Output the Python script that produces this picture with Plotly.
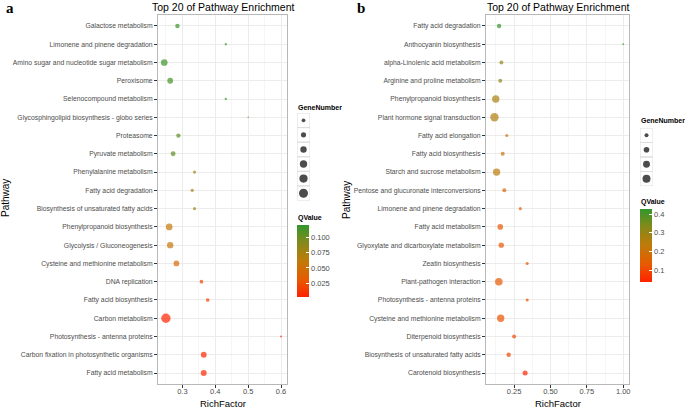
import plotly.graph_objects as go

# panel a
pathway_a = ['Galactose metabolism', 'Limonene and pinene degradation',
             'Amino sugar and nucleotide sugar metabolism', 'Peroxisome',
             'Selenocompound metabolism', 'Glycosphingolipid biosynthesis - globo series',
             'Proteasome', 'Pyruvate metabolism', 'Phenylalanine metabolism',
             'Fatty acid degradation', 'Biosynthesis of unsaturated fatty acids',
             'Phenylpropanoid biosynthesis', 'Glycolysis / Gluconeogenesis',
             'Cysteine and methionine metabolism', 'DNA replication',
             'Fatty acid biosynthesis', 'Carbon metabolism',
             'Photosynthesis - antenna proteins',
             'Carbon fixation in photosynthetic organisms', 'Fatty acid metabolism']
rich_a = [0.285, 0.432, 0.245, 0.263, 0.432, 0.50, 0.288, 0.272, 0.337, 0.330,
          0.337, 0.260, 0.263, 0.282, 0.358, 0.377, 0.250, 0.600, 0.365, 0.365]
gene_a = [15, 4, 33, 25, 4, 2, 14, 18, 7, 8, 7, 33, 30, 24, 10, 10, 65, 3, 25, 26]
qval_a = [0.118, 0.118, 0.118, 0.115, 0.118, 0.11, 0.105, 0.105, 0.080, 0.078,
          0.080, 0.058, 0.058, 0.045, 0.020, 0.020, 0.003, 0.010, 0.005, 0.005]
gene_keys_a = [10, 20, 30, 40, 50, 60]
q_ticks_a = [0.025, 0.050, 0.075, 0.100]
q_labels_a = ['0.025', '0.050', '0.075', '0.100']
x_ticks_a = [0.3, 0.4, 0.5, 0.6]

# panel b
pathway_b = ['Fatty acid degradation', 'Anthocyanin biosynthesis',
             'alpha-Linolenic acid metabolism', 'Arginine and proline metabolism',
             'Phenylpropanoid biosynthesis', 'Plant hormone signal transduction',
             'Fatty acid elongation', 'Fatty acid biosynthesis',
             'Starch and sucrose metabolism', 'Pentose and glucuronate interconversions',
             'Limonene and pinene degradation', 'Fatty acid metabolism',
             'Glyoxylate and dicarboxylate metabolism', 'Zeatin biosynthesis',
             'Plant-pathogen interaction', 'Photosynthesis - antenna proteins',
             'Cysteine and methionine metabolism', 'Diterpenoid biosynthesis',
             'Biosynthesis of unsaturated fatty acids', 'Carotenoid biosynthesis']
rich_b = [0.147, 1.0, 0.163, 0.155, 0.124, 0.115, 0.200, 0.172, 0.130, 0.183,
          0.293, 0.155, 0.162, 0.340, 0.145, 0.340, 0.158, 0.250, 0.213, 0.326]
gene_b = [6, 1, 5, 5, 17, 22, 3, 5, 17, 5, 3, 10, 9, 3, 18, 3, 17, 5, 6, 8]
qval_b = [0.427, 0.427, 0.31, 0.31, 0.27, 0.26, 0.20, 0.20, 0.24, 0.16,
          0.14, 0.13, 0.13, 0.12, 0.13, 0.12, 0.12, 0.10, 0.10, 0.04]
gene_keys_b = [5, 10, 15, 20]
q_ticks_b = [0.1, 0.2, 0.3, 0.4]
q_labels_b = ['0.1', '0.2', '0.3', '0.4']
x_ticks_b = [0.25, 0.50, 0.75, 1.00]

W, H = 685, 409
FONT = 'Liberation Sans, Arial, sans-serif'
GREY = '#4d4d4d'
scale = [[0.0, '#ff2200'], [0.25, '#e65c00'], [0.5, '#c07a0a'],
         [0.75, '#86891a'], [1.0, '#32972c']]

def px(x):
    return x / W

def py(y):
    return 1 - y / H

# plotly area mode: diameter = sqrt(2*v/sizeref)
sref_a = 2 * 60 / 81.0
sref_b = 2 * 20 / 64.0

fig = go.Figure()

fig.add_trace(go.Scatter(x=rich_a, y=pathway_a, mode='markers', xaxis='x', yaxis='y',
                         marker=dict(size=gene_a, sizemode='area', sizeref=sref_a, sizemin=0.7,
                                     color=qval_a, coloraxis='coloraxis', line=dict(width=0)),
                         showlegend=False))
fig.add_trace(go.Scatter(x=rich_b, y=pathway_b, mode='markers', xaxis='x2', yaxis='y2',
                         marker=dict(size=gene_b, sizemode='area', sizeref=sref_b, sizemin=0.7,
                                     color=qval_b, coloraxis='coloraxis2', line=dict(width=0)),
                         showlegend=False))

# size legends drawn as small scatter panels
for keys, sref, xa, ya in [(gene_keys_a, sref_a, 'x3', 'y3'), (gene_keys_b, sref_b, 'x4', 'y4')]:
    idx = list(range(len(keys)))
    fig.add_trace(go.Scatter(x=[0] * len(keys), y=idx, mode='markers', xaxis=xa, yaxis=ya,
                             marker=dict(size=keys, sizemode='area', sizeref=sref, color='black',
                                         line=dict(width=0)),
                             showlegend=False, cliponaxis=False, hoverinfo='skip'))
    fig.add_trace(go.Scatter(x=[0.62] * len(keys), y=idx, mode='text', xaxis=xa, yaxis=ya,
                             text=[str(k) for k in keys], textposition='middle right',
                             textfont=dict(size=7.5, color=GREY, family=FONT),
                             showlegend=False, cliponaxis=False, hoverinfo='skip'))

ydom = [py(384), py(15)]
common_x = dict(showline=True, mirror=True, linecolor='#b8b8b8', linewidth=1,
                showgrid=True, gridcolor='#ececec', gridwidth=1,
                ticks='outside', ticklen=3, tickcolor='#333333', tickwidth=1,
                ticklabelstandoff=-3,
                tickfont=dict(size=7.5, color=GREY, family=FONT), zeroline=False)
common_y = dict(showline=True, mirror=True, linecolor='#b8b8b8', linewidth=1,
                showgrid=True, gridcolor='#ececec', gridwidth=1,
                ticks='outside', ticklen=3, tickcolor='#333333', tickwidth=1,
                tickfont=dict(size=6.8, color=GREY, family=FONT), zeroline=False,
                type='category', range=[19.6, -0.6])

cbar = dict(thickness=12, thicknessmode='pixels', lenmode='pixels', xanchor='left',
            yanchor='top', xpad=0, ypad=0, outlinewidth=0, ticks='inside', ticklen=3,
            tickcolor='white', tickfont=dict(size=7.5, color=GREY, family=FONT))

fig.update_layout(
    width=W, height=H, margin=dict(l=0, r=0, t=0, b=0),
    paper_bgcolor='white', plot_bgcolor='white',
    font=dict(family=FONT, color='black'),
    xaxis=dict(domain=[px(158), px(287)], range=[0.226, 0.618], tickvals=x_ticks_a,
               minor=dict(dtick=0.05, tick0=0.25, showgrid=True, gridcolor='#f6f6f6'), **common_x),
    yaxis=dict(domain=ydom, anchor='x', categoryarray=pathway_a, categoryorder='array', **common_y),
    xaxis2=dict(domain=[px(486), px(629)], range=[0.057, 1.04], tickvals=x_ticks_b,
                ticktext=['0.25', '0.50', '0.75', '1.00'],
                minor=dict(dtick=0.125, tick0=0.125, showgrid=True, gridcolor='#f6f6f6'), **common_x),
    yaxis2=dict(domain=ydom, anchor='x2', categoryarray=pathway_b, categoryorder='array', **common_y),
    xaxis3=dict(domain=[px(297), px(310)], range=[-0.5, 0.5], visible=False, fixedrange=True),
    yaxis3=dict(domain=[py(200.5), py(113)], range=[5.5, -0.5], visible=False, anchor='x3'),
    xaxis4=dict(domain=[px(640), px(653)], range=[-0.5, 0.5], visible=False, fixedrange=True),
    yaxis4=dict(domain=[py(186), py(128)], range=[3.5, -0.5], visible=False, anchor='x4'),
    coloraxis=dict(colorscale=scale, cmin=0.002, cmax=0.121,
                   colorbar=dict(x=px(297), y=py(225), len=72, tickvals=q_ticks_a,
                                 ticktext=q_labels_a, **cbar)),
    coloraxis2=dict(colorscale=scale, cmin=0.037, cmax=0.427,
                    colorbar=dict(x=px(640), y=py(209), len=73, tickvals=q_ticks_b,
                                  ticktext=q_labels_b, **cbar)),
)

shapes = []
for n, xa, ya in [(len(gene_keys_a), 'x3', 'y3'), (len(gene_keys_b), 'x4', 'y4')]:
    for i in range(n):
        shapes.append(dict(type='rect', xref=xa, yref=ya, x0=-0.5, x1=0.5, y0=i - 0.5, y1=i + 0.5,
                           line=dict(color='#dedede', width=1), fillcolor='rgba(0,0,0,0)', layer='below'))
fig.update_layout(shapes=shapes)

ann = []
for cx, lbl, lx in [(223, 'a', 4), (558, 'b', 355)]:
    ann.append(dict(text='Top 20 of Pathway Enrichment', x=px(cx), y=py(7.5), xref='paper', yref='paper',
                    showarrow=False, xanchor='center', yanchor='middle', font=dict(size=10.5, family=FONT)))
    ann.append(dict(text='RichFactor', x=px(cx), y=py(403), xref='paper', yref='paper',
                    showarrow=False, xanchor='center', yanchor='middle', font=dict(size=9.5, family=FONT)))
    ann.append(dict(text='<b>%s</b>' % lbl, x=px(lx), y=py(8), xref='paper', yref='paper',
                    showarrow=False, xanchor='left', yanchor='middle',
                    font=dict(size=15, family='Liberation Serif, DejaVu Serif, serif')))
for x, y in [(5, 198), (346, 200)]:
    ann.append(dict(text='Pathway', x=px(x), y=py(y), xref='paper', yref='paper', textangle=-90,
                    showarrow=False, xanchor='center', yanchor='middle', font=dict(size=10, family=FONT)))
for x, y, t in [(296, 107, 'GeneNumber'), (639, 121, 'GeneNumber'), (296, 218, 'QValue'), (639, 202, 'QValue')]:
    ann.append(dict(text='<b>%s</b>' % t, x=px(x), y=py(y), xref='paper', yref='paper',
                    showarrow=False, xanchor='left', yanchor='middle', font=dict(size=7, family=FONT)))
fig.update_layout(annotations=ann)

# the page body has a default 8px margin; remove it so the figure fills the window
fig.write_html('out.html', config={'displayModeBar': False},
               post_script="document.body.style.margin='0px';")
